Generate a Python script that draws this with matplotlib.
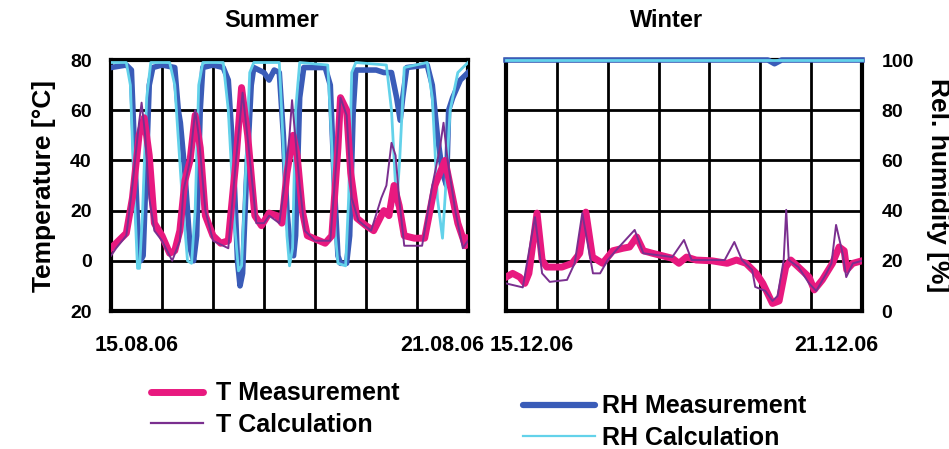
import matplotlib.pyplot as plt
from matplotlib.lines import Line2D

plt.rcParams["font.family"] = ["Liberation Sans", "DejaVu Sans"]
plt.rcParams["font.weight"] = "bold"

# ── Summer week (days after 15.08.06) ─────────────────────────
summer_t_meas_day = [0.0, 0.15, 0.3, 0.42, 0.55, 0.65, 0.75, 0.85, 1.0, 1.15, 1.25, 1.35,
                     1.45, 1.55, 1.65, 1.75, 1.85, 2.0, 2.15, 2.3, 2.45, 2.56, 2.68, 2.82,
                     2.95, 3.1, 3.25, 3.35, 3.45, 3.57, 3.65, 3.75, 3.85, 4.2, 4.33, 4.45,
                     4.5, 4.62, 4.7, 4.82, 5.0, 5.15, 5.35, 5.45, 5.55, 5.65, 5.75, 5.95,
                     6.15, 6.35, 6.55, 6.65, 6.8, 6.95, 7.0]
summer_t_meas = [5, 8, 11, 25, 50, 57, 42, 15, 10, 3, 4, 12,
                 32, 40, 58, 45, 18, 10, 7, 8, 40, 69, 50, 18,
                 14, 19, 18, 15, 35, 50, 42, 20, 10, 7, 10, 45,
                 65, 60, 35, 17, 14, 12, 20, 18, 30, 22, 10, 9,
                 9, 30, 40, 30, 15, 6, 9]

summer_t_calc_day = [0.0, 0.1, 0.3, 0.42, 0.55, 0.6, 0.67, 0.75, 0.85, 1.0, 1.2, 1.35,
                     1.42, 1.55, 1.65, 1.72, 1.85, 2.0, 2.3, 2.45, 2.58, 2.7, 2.85, 3.0,
                     3.1, 3.3, 3.4, 3.5, 3.55, 3.62, 3.7, 3.8, 4.0, 4.3, 4.42, 4.5,
                     4.62, 4.72, 4.85, 5.1, 5.3, 5.4, 5.5, 5.58, 5.65, 5.75, 6.1, 6.3,
                     6.45, 6.52, 6.6, 6.75, 6.9, 7.0]
summer_t_calc = [2, 5, 10, 30, 55, 63, 50, 25, 12, 8, 0, 8,
                 28, 40, 60, 50, 20, 8, 5, 40, 67, 45, 15, 15,
                 18, 15, 30, 50, 64, 48, 30, 12, 8, 8, 40, 65,
                 58, 25, 16, 12, 25, 30, 47, 42, 25, 6, 6, 30,
                 45, 55, 40, 20, 5, 8]

summer_rh_meas_day = [0.0, 0.3, 0.4, 0.45, 0.52, 0.58, 0.63, 0.68, 0.75, 0.82, 1.0, 1.25,
                      1.32, 1.36, 1.45, 1.55, 1.62, 1.68, 1.75, 1.8, 2.0, 2.2, 2.3, 2.4,
                      2.48, 2.53, 2.58, 2.65, 2.75, 2.8, 3.0, 3.1, 3.2, 3.3, 3.38, 3.45,
                      3.52, 3.58, 3.62, 3.7, 3.78, 4.2, 4.3, 4.38, 4.45, 4.5, 4.62, 4.68,
                      4.75, 4.8, 5.0, 5.2, 5.35, 5.5, 5.6, 5.67, 5.72, 5.8, 6.2, 6.3,
                      6.4, 6.5, 6.58, 6.62, 6.7, 6.85, 7.0]
summer_rh_meas = [97, 98, 96, 70, 35, 20, 22, 50, 90, 97, 98, 97,
                  80, 75, 55, 25, 20, 30, 80, 97, 98, 97, 92, 60,
                  20, 10, 15, 50, 90, 97, 95, 92, 96, 95, 70, 40,
                  24, 22, 30, 85, 97, 97, 90, 50, 22, 19, 19, 30,
                  80, 96, 96, 96, 95, 95, 85, 76, 85, 97, 98, 90,
                  70, 55, 50, 80, 85, 92, 95]

summer_rh_calc_day = [0.0, 0.3, 0.38, 0.45, 0.52, 0.56, 0.62, 0.7, 0.78, 1.15, 1.25, 1.38,
                      1.5, 1.58, 1.65, 1.72, 1.8, 2.2, 2.3, 2.42, 2.5, 2.56, 2.65, 2.72,
                      2.8, 3.3, 3.38, 3.45, 3.5, 3.56, 3.62, 3.7, 4.25, 4.32, 4.4, 4.45,
                      4.6, 4.66, 4.72, 4.8, 5.4, 5.5, 5.6, 5.66, 5.75, 6.2, 6.3, 6.4,
                      6.5, 6.55, 6.65, 6.8, 7.0]
summer_rh_calc = [99, 99, 90, 50, 17, 17, 40, 85, 99, 99, 90, 50,
                  20, 19, 40, 90, 99, 99, 80, 35, 16, 18, 60, 95,
                  99, 99, 65, 30, 18, 25, 80, 99, 98, 70, 30, 19,
                  18, 45, 95, 99, 98, 80, 42, 60, 97, 99, 85, 45,
                  29, 45, 80, 95, 99]

# ── Winter week (days after 15.12.06) ─────────────────────────
winter_t_meas_day = [0.0, 0.13, 0.27, 0.37, 0.45, 0.61, 0.71, 0.8, 1.1, 1.3, 1.45, 1.57,
                     1.7, 1.9, 2.1, 2.3, 2.43, 2.57, 2.7, 2.88, 3.27, 3.4, 3.55, 3.74,
                     4.05, 4.35, 4.53, 4.72, 4.92, 5.05, 5.24, 5.37, 5.5, 5.6, 5.75, 5.96,
                     6.06, 6.22, 6.42, 6.55, 6.65, 6.7, 6.82, 7.0]
winter_t_meas = [-6.5, -5, -6.5, -9, -5, 19, 0.3, -2.5, -2.5, -1, 3, 19.4,
                 1.5, -1, 4, 5, 5.5, 9.5, 4, 3, 1, -1, 1.5, 0.3,
                 0, -1, 0.3, -1, -5, -9, -17, -16, -2.5, 0.3, -2.5, -6.5,
                 -11.6, -7.6, -1, 5.5, 4, -3.6, -1, 0]

winter_t_calc_day = [0.0, 0.33, 0.57, 0.71, 0.86, 1.2, 1.35, 1.5, 1.71, 1.85, 2.0, 2.2,
                     2.53, 2.7, 3.27, 3.5, 3.65, 4.3, 4.49, 4.64, 4.84, 4.9, 5.1, 5.24,
                     5.34, 5.46, 5.51, 5.56, 5.75, 5.96, 6.1, 6.3, 6.4, 6.49, 6.62, 6.69,
                     6.82, 7.0]
winter_t_calc = [-9, -10.6, 17.4, -5, -8.4, -7.6, -1, 19, -5, -5, 0.3, 5,
                 12.3, 3, 1.5, 8.3, 0.3, 0.3, 7.5, 0.3, -3.6, -10.4, -12, -16,
                 -14, 0.3, 20.3, 0.3, -2.5, -9, -12, -5, -1, 14.3, 2.8, -6.5,
                 -1, 0]

winter_rh_meas_day = [0.0, 5.15, 5.28, 5.42, 7.0]
winter_rh_meas = [100, 100, 98.5, 100, 100]
winter_rh_calc_day = [0.0, 7.0]
winter_rh_calc = [100, 100]

# ── Axis text ─────────────────────────────────────────────────
T_TICKS = [-20, 0, 20, 40, 60, 80]
T_TICKLABELS = ["20", "0", "20", "40", "60", "80"]
RH_TICKS = [0, 20, 40, 60, 80, 100]
SUMMER_DATES = ["15.08.06", "21.08.06"]
WINTER_DATES = ["15.12.06", "21.12.06"]

C_T_MEAS = "#e8197f"
C_T_CALC = "#7a2f8f"
C_RH_MEAS = "#3a5cb8"
C_RH_CALC = "#63d2ea"


def rh_to_t(rh):
    # RH 0..100 % shares the frame with T -20..80 °C
    return [v - 20 for v in rh]


def preparar_eje(ax, fechas, titulo):
    ax.set_xlim(0, 7)
    ax.set_ylim(-20, 80)
    ax.set_xticks([0.5, 6.5])
    ax.set_xticklabels(fechas, fontsize=15.5, fontweight="bold")
    ax.set_xticks(range(8), minor=True)
    ax.set_yticks(T_TICKS)
    ax.grid(which="minor", axis="x", color="black", linewidth=2)
    ax.grid(which="major", axis="y", color="black", linewidth=2)
    ax.set_axisbelow(True)
    ax.tick_params(which="both", length=0)
    ax.tick_params(axis="x", pad=17)
    for sp in ax.spines.values():
        sp.set_linewidth(3)
    ax.set_title(titulo, fontsize=17, fontweight="bold", x=0.45, pad=24)


def trazar(ax, d_rhm, rhm, d_rhc, rhc, d_tm, tm, d_tc, tc, clip=True):
    ax.plot(d_rhm, rh_to_t(rhm), color=C_RH_MEAS, lw=4.0, clip_on=clip, zorder=3)
    ax.plot(d_rhc, rh_to_t(rhc), color=C_RH_CALC, lw=2.0, clip_on=clip, zorder=3)
    ax.plot(d_tm, tm, color=C_T_MEAS, lw=5.0, zorder=4)
    ax.plot(d_tc, tc, color=C_T_CALC, lw=1.4, zorder=5)


fig = plt.figure(figsize=(9.49, 4.49), dpi=100)
ax_s = fig.add_axes([111 / 949, 1 - 311 / 449, 357 / 949, 251 / 449])
ax_w = fig.add_axes([506 / 949, 1 - 311 / 449, 356 / 949, 251 / 449])

# verano
preparar_eje(ax_s, SUMMER_DATES, "Summer")
trazar(ax_s, summer_rh_meas_day, summer_rh_meas, summer_rh_calc_day, summer_rh_calc,
       summer_t_meas_day, summer_t_meas, summer_t_calc_day, summer_t_calc)
ax_s.set_yticklabels(T_TICKLABELS, fontsize=14, fontweight="bold")
ax_s.tick_params(axis="y", pad=14)
ax_s.set_ylabel("Temperature [°C]", fontsize=19, fontweight="bold", labelpad=10)

# invierno
preparar_eje(ax_w, WINTER_DATES, "Winter")
trazar(ax_w, winter_rh_meas_day, winter_rh_meas, winter_rh_calc_day, winter_rh_calc,
       winter_t_meas_day, winter_t_meas, winter_t_calc_day, winter_t_calc, clip=False)
ax_w.set_yticklabels([])
sec = ax_w.secondary_yaxis("right", functions=(lambda t: t + 20, lambda h: h - 20))
sec.set_yticks(RH_TICKS)
sec.set_yticklabels([str(v) for v in RH_TICKS], fontsize=14, fontweight="bold")
sec.tick_params(length=0, pad=14)
sec.spines["right"].set_visible(False)
sec.set_ylabel("Rel. humidity [%]", fontsize=19, fontweight="bold", rotation=-90,
               labelpad=26)

# leyendas
h_t = [Line2D([], [], color=C_T_MEAS, lw=5.0, solid_capstyle="round"),
       Line2D([], [], color=C_T_CALC, lw=1.6)]
h_rh = [Line2D([], [], color=C_RH_MEAS, lw=4.5, solid_capstyle="round"),
        Line2D([], [], color=C_RH_CALC, lw=1.6)]
ley_t = fig.legend(h_t, ["T Measurement", "T Calculation"], loc="center left",
                   bbox_to_anchor=(138 / 949, 1 - 409 / 449), frameon=False,
                   borderpad=0, handlelength=2.1, handletextpad=0.5,
                   labelspacing=0.3, prop={"size": 18, "weight": "bold"})
ley_rh = fig.legend(h_rh, ["RH Measurement", "RH Calculation"], loc="center left",
                    bbox_to_anchor=(510 / 949, 1 - 422 / 449), frameon=False,
                    borderpad=0, handlelength=2.9, handletextpad=0.3,
                    labelspacing=0.3, prop={"size": 18, "weight": "bold"})

fig.savefig("out.png", dpi=100)
